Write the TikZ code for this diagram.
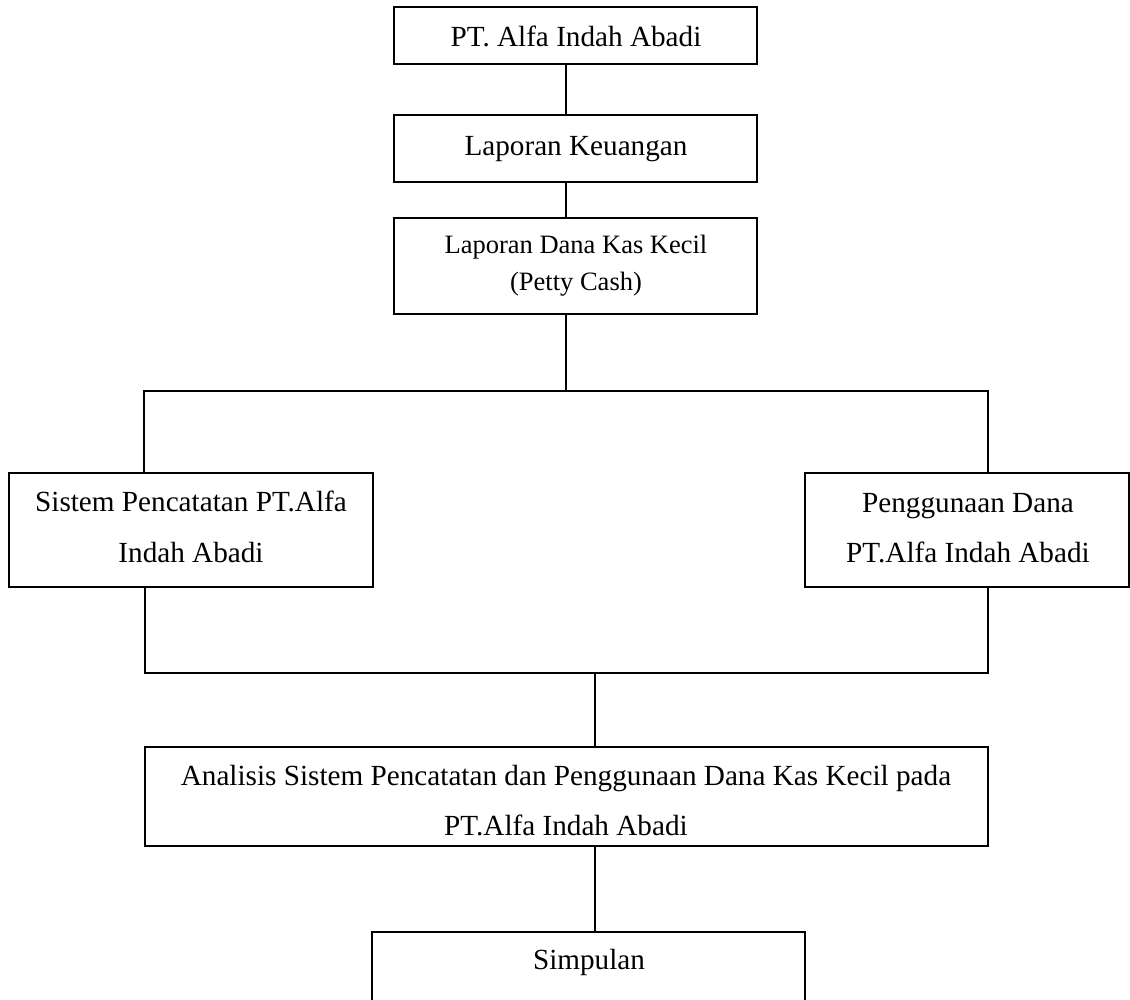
\documentclass[tikz,border=0pt]{standalone}
\usepackage{fontspec}
\setmainfont{Liberation Serif}
\begin{document}
\begin{tikzpicture}[x=1pt,y=-1pt,
  boxnode/.style={draw=black, line width=1.6pt, inner sep=0pt, outer sep=0pt},
  lbl/.style={anchor=base, inner sep=0pt, font=\fontsize{29.2}{35}\selectfont},
  lblsmall/.style={anchor=base, inner sep=0pt, font=\fontsize{26.5}{32}\selectfont},
  conn/.style={draw=black, line width=1.6pt}]
\useasboundingbox (0,0) rectangle (1130,999);
\clip (0,0) rectangle (1130,999);
% boxes
\node[boxnode, minimum width=363pt, minimum height=57pt] (b1) at (575.5,35.5) {};
\node[lbl] (t1) at (576,46) {PT. Alfa Indah Abadi};
\node[boxnode, minimum width=363pt, minimum height=67pt] (b2) at (575.5,148.5) {};
\node[lbl] (t2) at (576,155) {Laporan Keuangan};
\node[boxnode, minimum width=363pt, minimum height=96pt] (b3) at (575.5,266) {};
\node[lblsmall] (t3a) at (576,253) {Laporan Dana Kas Kecil};
\node[lblsmall] (t3b) at (576,290) {(Petty Cash)};
\node[boxnode, minimum width=364pt, minimum height=114pt] (lb) at (191,530) {};
\node[lbl] (tla) at (191,511) {Sistem Pencatatan PT.Alfa};
\node[lbl] (tlb) at (191,562) {Indah Abadi};
\node[boxnode, minimum width=324pt, minimum height=114pt] (rb) at (967,530) {};
\node[lbl] (tra) at (968,512) {Penggunaan Dana};
\node[lbl] (trb) at (968,562) {PT.Alfa Indah Abadi};
\node[boxnode, minimum width=843pt, minimum height=99pt] (b8) at (566.5,796.5) {};
\node[lbl] (t8a) at (566,785) {Analisis Sistem Pencatatan dan Penggunaan Dana Kas Kecil pada};
\node[lbl] (t8b) at (566,835) {PT.Alfa Indah Abadi};
\node[boxnode, minimum width=433pt, minimum height=90pt] (b9) at (588.5,977) {};
\node[lbl] (t9) at (589,969) {Simpulan};
% junction points
\coordinate (m) at (566,391);
\coordinate (jl) at (144,391);
\coordinate (jr) at (988,391);
\coordinate (kl) at (145,673);
\coordinate (kr) at (988,673);
\coordinate (km) at (595,673);
\coordinate (sm) at (595,900);
% connectors
\draw[conn] (b1.south -| m) -- (b2.north -| m);
\draw[conn] (b2.south -| m) -- (b3.north -| m);
\draw[conn] (b3.south -| m) -- (m);
\draw[conn] (jl |- lb.north) -- (jl) -- (jr) -- (jr |- rb.north);
\draw[conn] (kl |- lb.south) -- (kl) -- (kr) -- (kr |- rb.south);
\draw[conn] (km) -- (km |- b8.north);
\draw[conn] (sm |- b8.south) -- (sm |- b9.north);
\end{tikzpicture}
\end{document}
